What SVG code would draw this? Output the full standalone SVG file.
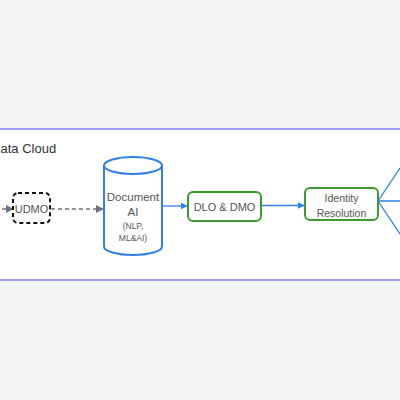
<svg xmlns="http://www.w3.org/2000/svg" width="400" height="400" viewBox="0 0 400 400">
<defs>
<style>
text{font-family:"Liberation Sans",Arial,sans-serif;fill:#555;text-anchor:middle}
.green{fill:#fff;stroke:#3c9a2e;stroke-width:2}
.blue{stroke:#2f80ed;stroke-width:1.3;fill:none}
</style>
<marker id="ab" viewBox="0 0 10 10" refX="9" refY="5" markerWidth="7" markerHeight="7" markerUnits="userSpaceOnUse" orient="auto"><path d="M0,0L10,5L0,10z" fill="#2f80ed"/></marker>
<marker id="ag" viewBox="0 0 10 10" refX="9" refY="5" markerWidth="8" markerHeight="8" markerUnits="userSpaceOnUse" orient="auto"><path d="M0,0L10,5L0,10z" fill="#6b7280"/></marker>
</defs>
<rect x="0" y="0" width="400" height="400" fill="#f2f3f5"/>
<g id="container">
<rect x="-20" y="129" width="440" height="151" fill="#fff" stroke="#a0a0f5" stroke-width="2"/>
<text x="0.5" y="153" font-size="13" style="text-anchor:start;fill:#333">ata Cloud</text>
</g>
<g id="connectors">
<path d="M-5,209H13" stroke="#6b7280" stroke-width="1.3" stroke-dasharray="4,3" marker-end="url(#ag)"/>
<path d="M51,209H103" stroke="#6b7280" stroke-width="1.3" stroke-dasharray="4,3" fill="none" marker-end="url(#ag)"/>
<path class="blue" d="M163,206H187" marker-end="url(#ab)"/>
<path class="blue" d="M262,205.5H304" marker-end="url(#ab)"/>
<path class="blue" d="M378,201L400,168M378,201H400M378,201L400,234"/>
</g>
<g id="udmo">
<rect x="13" y="193" width="37" height="30" rx="5" fill="#fff" stroke="#111" stroke-width="2" stroke-dasharray="4,3"/>
<text x="31.5" y="212.5" font-size="11">UDMO</text>
</g>
<g id="document-ai">
<path d="M104,165.5V246.5A29,8.5 0 0 0 162,246.5V165.5" fill="#fff" stroke="#2f80ed" stroke-width="2"/>
<ellipse cx="133" cy="165.5" rx="29" ry="8.5" fill="#fff" stroke="#2f80ed" stroke-width="2"/>
<text x="133" y="201" font-size="11.5">Document</text>
<text x="133" y="216" font-size="11.5">AI</text>
<text x="133" y="228.5" font-size="8.5">(NLP,</text>
<text x="133" y="241" font-size="8.5">ML&amp;AI)</text>
</g>
<g id="dlo-dmo">
<rect class="green" x="188" y="192" width="73" height="29" rx="5"/>
<text x="224.5" y="210.5" font-size="11">DLO &amp; DMO</text>
</g>
<g id="identity-resolution">
<rect class="green" x="305" y="188" width="73" height="32" rx="5"/>
<text x="341.5" y="202" font-size="10.5">Identity</text>
<text x="341.5" y="217" font-size="10.5">Resolution</text>
</g>
</svg>
